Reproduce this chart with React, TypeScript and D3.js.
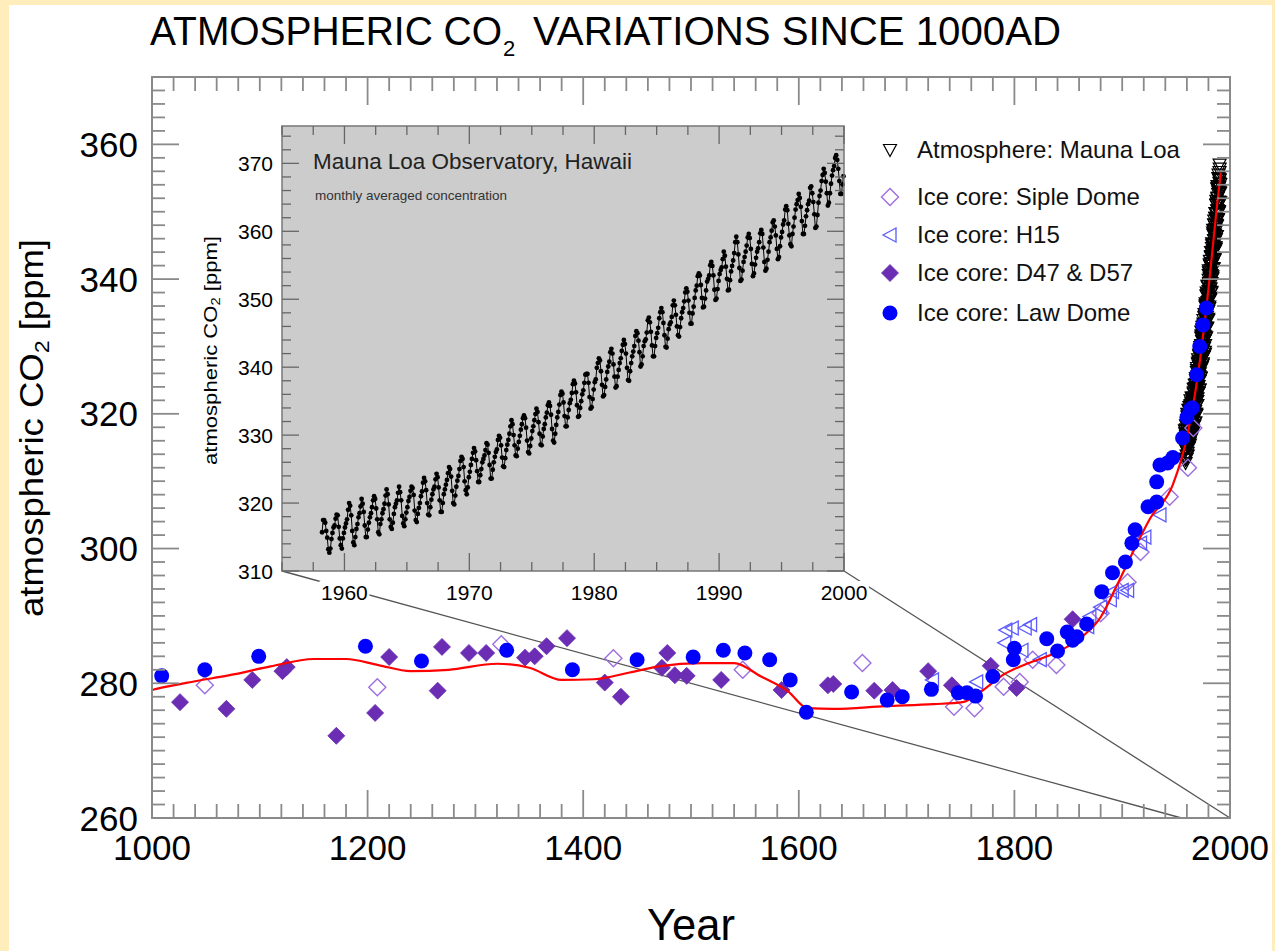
import React from "react";
import * as d3 from "d3";

const FONT = "'Liberation Sans', Arial, Helvetica, sans-serif";

// ---------- tick labels ----------
const xMajorTicks = [1000, 1200, 1400, 1600, 1800, 2000];
const yMajorTicks = [260, 280, 300, 320, 340, 360];
const insetXTicks = [1960, 1970, 1980, 1990, 2000];
const insetYTicks = [310, 320, 330, 340, 350, 360, 370];

// ---------- ice core: Law Dome ----------
const lawDomeYear = [1009, 1049, 1099, 1198, 1250, 1329, 1390, 1450, 1502, 1530, 1550, 1573, 1592, 1607, 1649, 1682, 1696, 1723, 1748, 1756, 1764, 1780, 1799, 1800, 1830, 1840, 1849, 1854, 1858, 1867, 1881, 1891, 1903, 1909, 1912, 1924, 1932, 1932, 1935, 1942, 1947, 1956, 1960, 1963, 1965, 1969, 1972, 1975, 1978];
const lawDomeCO2 = [281.1, 282.0, 284.0, 285.5, 283.3, 284.9, 282.0, 283.5, 283.9, 284.9, 284.5, 283.5, 280.5, 275.7, 278.7, 277.5, 278.0, 279.1, 278.6, 278.6, 278.1, 281.0, 283.5, 285.2, 286.6, 284.8, 287.6, 286.4, 286.9, 288.8, 293.6, 296.4, 298.0, 300.8, 302.8, 306.2, 306.9, 309.9, 312.4, 312.7, 313.5, 316.4, 319.5, 320.6, 320.9, 325.8, 330.0, 333.2, 335.7];

// ---------- ice core: D47 & D57 ----------
const d47Year = [1026, 1069, 1093, 1121, 1125, 1171, 1207, 1220, 1265, 1269, 1294, 1310, 1346, 1355, 1366, 1385, 1420, 1435, 1473, 1478, 1485, 1496, 1528, 1584, 1627, 1632, 1670, 1687, 1720, 1742, 1778, 1802, 1854];
const d47CO2 = [277.2, 276.2, 280.5, 281.8, 282.4, 272.2, 275.6, 283.9, 278.9, 285.4, 284.5, 284.5, 283.8, 284.0, 285.5, 286.7, 280.1, 278.0, 282.3, 284.5, 281.2, 281.1, 280.5, 279.0, 279.7, 279.9, 278.9, 279.0, 281.8, 279.7, 282.6, 279.3, 289.5];

// ---------- ice core: Siple Dome ----------
const sipleYear = [1049, 1209, 1324, 1428, 1548, 1659, 1744, 1763, 1790, 1805, 1817, 1839, 1880, 1905, 1917, 1944, 1961, 1966];
const sipleCO2 = [279.7, 279.4, 285.8, 283.7, 282.0, 283.0, 276.5, 276.3, 279.5, 280.2, 283.5, 282.7, 290.4, 295.0, 299.5, 307.7, 312.0, 317.9];

// ---------- ice core: H15 ----------
const h15Year = [1724, 1765, 1791, 1792, 1798, 1807, 1810, 1815, 1824, 1868, 1870, 1880, 1889, 1891, 1900, 1905, 1917, 1921, 1935];
const h15CO2 = [280.5, 280.2, 286.0, 287.9, 288.2, 284.9, 288.2, 288.7, 283.5, 288.4, 289.9, 291.3, 292.4, 293.6, 293.8, 293.8, 300.8, 301.7, 305.0];

// ---------- smoothed fit (red line) ----------
const fitYear = [1000, 1005, 1040, 1072, 1110, 1150, 1180, 1210, 1240, 1275, 1320, 1350, 1380, 1410, 1443, 1470, 1510, 1540, 1565, 1590, 1608, 1632, 1680, 1725, 1752, 1771, 1790, 1810, 1835, 1862, 1880, 1895, 1910, 1926, 1947, 1960, 1970, 1980, 1988, 1991.5];
const fitCO2 = [279.0, 279.2, 280.3, 281.2, 282.5, 283.6, 283.6, 282.7, 281.8, 282.0, 282.9, 282.3, 280.5, 280.6, 281.6, 282.5, 283.0, 283.0, 281.0, 278.8, 276.3, 276.2, 276.6, 276.9, 277.2, 279.0, 281.3, 282.8, 284.3, 286.8, 289.8, 294.5, 299.5, 304.5, 309.5, 316.5, 325.5, 338.5, 351.0, 355.8];

// ---------- atmosphere: Mauna Loa monthly averages, March 1958 onward ----------
const mloMonthlyStart = 1958 + 2 / 12;
const mloMainLastYear = 1990; // main panel shows the record through 1990
const mloMonthly = [
  315.7, 317.5, 317.5, 317.1, 315.9, 314.9, 313.2, 312.7, 313.3, 314.7,
  315.6, 316.4, 316.7, 317.7, 318.3, 318.2, 316.5, 314.8, 313.8, 313.3, 314.8, 315.6,
  316.4, 317.0, 317.6, 319.0, 320.0, 319.6, 318.2, 315.9, 314.2, 313.8, 315.0, 316.2,
  316.9, 317.9, 318.5, 319.5, 320.6, 319.9, 318.7, 316.7, 315.0, 315.0, 316.1, 317.1,
  317.9, 318.5, 319.4, 320.4, 321.0, 320.6, 319.2, 317.6, 315.7, 315.4, 316.9, 317.6,
  318.5, 319.1, 319.9, 321.1, 322.0, 321.3, 319.8, 317.6, 316.5, 316.2, 317.1, 318.4,
  319.4, 319.9, 320.4, 321.5, 322.4, 321.6, 320.4, 318.1, 317.0, 316.6, 317.6, 318.6,
  319.4, 320.3, 320.9, 321.8, 322.4, 322.2, 321.2, 318.9, 317.5, 317.2, 318.4, 319.3,
  320.0, 321.0, 321.7, 323.0, 323.7, 323.2, 321.9, 320.0, 318.3, 318.2, 319.4, 320.5,
  321.3, 322.0, 322.4, 323.5, 324.3, 323.8, 322.3, 320.4, 318.7, 318.7, 320.0, 321.3,
  322.0, 322.7, 323.4, 324.4, 325.3, 325.0, 323.9, 321.8, 320.0, 319.8, 321.1, 322.4,
  323.3, 324.0, 325.0, 326.2, 326.8, 326.5, 325.3, 323.2, 321.9, 321.3, 322.3, 323.8,
  324.6, 325.6, 326.5, 327.4, 328.1, 327.6, 326.3, 324.7, 323.1, 323.1, 324.1, 325.0,
  326.0, 326.5, 327.0, 327.8, 328.8, 328.6, 327.4, 325.6, 323.6, 323.6, 324.9, 326.0,
  326.8, 327.5, 327.9, 329.3, 329.9, 329.6, 328.5, 326.7, 325.4, 325.3, 326.6, 327.8,
  328.6, 329.3, 330.2, 331.3, 332.2, 331.6, 330.0, 328.5, 327.0, 326.9, 328.0, 329.0,
  329.9, 330.8, 331.6, 332.5, 332.9, 332.5, 331.1, 329.2, 327.5, 327.3, 328.4, 329.5,
  330.6, 331.3, 332.2, 333.1, 333.9, 333.4, 331.9, 330.2, 328.6, 328.5, 329.8, 330.9,
  331.6, 332.6, 333.3, 334.4, 334.8, 334.3, 333.0, 330.9, 329.2, 328.9, 330.2, 331.5,
  332.6, 333.4, 334.5, 335.9, 336.4, 336.1, 334.8, 332.8, 331.3, 331.3, 332.6, 333.7,
  334.7, 335.2, 336.2, 337.5, 338.0, 337.6, 336.3, 334.4, 332.7, 332.8, 334.0, 335.0,
  336.0, 336.6, 337.7, 338.9, 339.0, 339.0, 337.7, 335.6, 333.9, 334.1, 335.3, 336.7,
  337.8, 338.2, 339.9, 340.6, 341.3, 341.0, 339.4, 337.4, 335.7, 335.9, 337.1, 338.2,
  339.3, 340.1, 340.8, 342.2, 342.7, 342.0, 340.4, 338.6, 337.0, 337.2, 338.6, 339.6,
  340.6, 341.3, 342.4, 343.3, 344.0, 343.4, 342.0, 339.9, 338.1, 338.0, 339.4, 340.6,
  341.6, 342.3, 343.1, 344.6, 345.3, 345.0, 343.9, 342.2, 340.1, 340.4, 341.6, 343.1,
  343.8, 344.1, 345.1, 346.9, 347.3, 346.6, 345.2, 343.2, 341.6, 341.6, 343.1, 344.3,
  345.0, 345.8, 347.2, 348.1, 348.7, 348.1, 346.5, 344.7, 343.0, 342.9, 344.2, 345.6,
  346.3, 346.6, 347.4, 349.1, 349.8, 349.1, 347.7, 346.0, 344.7, 344.5, 345.9, 347.2,
  348.1, 348.7, 349.7, 351.0, 351.6, 351.1, 349.8, 348.0, 346.4, 346.4, 347.9, 348.9,
  350.2, 351.3, 352.0, 353.4, 353.8, 353.5, 352.1, 350.2, 348.8, 348.9, 350.1, 351.3,
  352.6, 353.0, 353.5, 355.0, 355.5, 354.9, 353.5, 351.4, 349.9, 350.1, 351.5, 352.7,
  353.7, 354.3, 354.7, 355.9, 357.0, 356.4, 354.8, 353.0, 351.3, 351.4, 352.8, 354.1,
  354.9, 355.7, 356.8, 358.4, 359.2, 358.4, 356.6, 354.6, 352.7, 352.9, 354.2, 355.5,
  356.2, 357.0, 357.9, 359.1, 359.6, 359.0, 357.4, 355.2, 353.4, 353.8, 355.1, 356.1,
  357.0, 357.5, 358.4, 359.7, 360.2, 359.6, 357.6, 355.5, 354.2, 354.5, 355.8, 357.0,
  358.4, 359.1, 360.1, 361.3, 361.6, 360.7, 359.4, 357.4, 355.9, 356.2, 357.8, 359.1,
  359.9, 361.0, 361.6, 363.2, 363.7, 363.1, 361.1, 359.4, 358.1, 357.8, 359.6, 360.7,
  362.0, 363.2, 364.0, 364.6, 365.5, 364.9, 363.6, 361.5, 359.6, 359.6, 360.8, 362.2,
  363.1, 364.0, 364.5, 366.4, 366.6, 365.6, 364.3, 362.5, 360.5, 360.7, 362.4, 364.2,
  365.2, 366.0, 367.4, 368.3, 369.2, 368.6, 367.3, 365.6, 363.8, 364.2, 365.6, 367.0,
  368.2, 369.0, 369.6, 370.8, 371.2, 370.5, 369.2, 367.4, 365.5, 365.5, 366.9, 368.1,
];

const legendLabels = [
  "Atmosphere: Mauna Loa",
  "Ice core: Siple Dome",
  "Ice core: H15",
  "Ice core: D47 & D57",
  "Ice core: Law Dome",
];

// ---------- scales ----------
const xMain = d3.scaleLinear().domain([1000, 2000]).range([152, 1230]);
const yMain = d3.scaleLinear().domain([260, 370]).range([818, 77]);
const xIn = d3.scaleLinear().domain([1955, 2000]).range([282, 844]);
const yIn = d3.scaleLinear().domain([310, 375.5]).range([571, 126]);

const COL_D47 = "#6b2db3";
const COL_SIPLE = "#9c6ee0";
const COL_H15 = "#5b5bff";
const COL_LAW = "#0000ff";
const AXIS = "#8a8a8a";

const triDown = "M-6.5,-5.5L6.5,-5.5L0,6.5Z";
const diamond = (r: number) => `M0,${-r}L${r},0L0,${r}L${-r},0Z`;
const triLeft = "M-7,0L6,-7L6,7Z";

function Sym({ kind, x, y }: { kind: string; x: number; y: number }) {
  const t = `translate(${x},${y})`;
  if (kind === "mlo") return <path d={triDown} transform={t} fill="none" stroke="#000" strokeWidth={1.2} />;
  if (kind === "siple") return <path d={diamond(8.5)} transform={t} fill="none" stroke={COL_SIPLE} strokeWidth={1.4} />;
  if (kind === "h15") return <path d={triLeft} transform={t} fill="none" stroke={COL_H15} strokeWidth={1.3} />;
  if (kind === "d47") return <path d={diamond(8.5)} transform={t} fill={COL_D47} stroke={COL_D47} strokeWidth={0.8} />;
  return <circle cx={x} cy={y} r={7.5} fill={COL_LAW} />;
}

export default function App() {
  const fitLine = d3
    .line<number>()
    .x((_, i) => xMain(fitYear[i]))
    .y((d) => yMain(d))
    .curve(d3.curveMonotoneX)(fitCO2) as string;

  const monthT = mloMonthly.map((_, i) => mloMonthlyStart + (i + 0.5) / 12);
  const insetLine = d3
    .line<number>()
    .x((_, i) => xIn(monthT[i]))
    .y((d) => yIn(d))(mloMonthly) as string;
  const mainMloIdx = d3.range(mloMonthly.length).filter((i) => monthT[i] < mloMainLastYear + 1);

  const xMinor = d3.range(1000, 2000.1, 20);
  const yMinor = d3.range(260, 370.1, 2);
  const ixMinor = d3.range(1955, 2000.1, 2.5);
  const iyMinor = d3.range(310, 375.1, 2);

  const [x0, x1] = xMain.range();
  const [yb, yt] = yMain.range();
  const [ix0, ix1] = xIn.range();
  const [iyb, iyt] = yIn.range();

  const legendRows = [150, 197, 235, 273, 313];
  const legendKinds = ["mlo", "siple", "h15", "d47", "law"];

  return (
    <svg width={1275} height={951} style={{ position: "absolute", left: 0, top: 0 }} fontFamily={FONT}>
      <rect x={0} y={0} width={1275} height={951} fill="#ffeebb" />
      <rect x={9} y={5} width={1263} height={946} fill="#ffffff" />

      {/* title */}
      <text x={150} y={45} fontSize={41} textLength={352} lengthAdjust="spacingAndGlyphs" fill="#000">ATMOSPHERIC CO</text>
      <text x={503} y={56} fontSize={22} fill="#000">2</text>
      <text x={533} y={45} fontSize={41} textLength={528} lengthAdjust="spacingAndGlyphs" fill="#000">VARIATIONS SINCE 1000AD</text>

      {/* connector lines from inset to main axis */}
      <line x1={ix0} y1={iyb} x2={xMain(1955)} y2={yMain(260)} stroke="#555" strokeWidth={1.3} />
      <line x1={ix1} y1={iyb} x2={xMain(2000)} y2={yMain(260)} stroke="#555" strokeWidth={1.3} />

      {/* main data */}
      <g>
        {mainMloIdx.map((i) => <Sym key={"m" + i} kind="mlo" x={xMain(monthT[i])} y={yMain(mloMonthly[i])} />)}
        {sipleCO2.map((v, i) => <Sym key={"s" + i} kind="siple" x={xMain(sipleYear[i])} y={yMain(v)} />)}
        {h15CO2.map((v, i) => <Sym key={"h" + i} kind="h15" x={xMain(h15Year[i])} y={yMain(v)} />)}
        {d47CO2.map((v, i) => <Sym key={"d" + i} kind="d47" x={xMain(d47Year[i])} y={yMain(v)} />)}
        <path d={fitLine} fill="none" stroke="#ff0000" strokeWidth={2.2} />
        {lawDomeCO2.map((v, i) => <Sym key={"l" + i} kind="law" x={xMain(lawDomeYear[i])} y={yMain(v)} />)}
      </g>

      {/* main frame and ticks */}
      <rect x={x0} y={yt} width={x1 - x0} height={yb - yt} fill="none" stroke={AXIS} strokeWidth={2} />
      {xMinor.map((t) => {
        const len = t % 200 === 0 ? 28 : 14;
        const x = xMain(t);
        return (
          <g key={"xt" + t} stroke={AXIS} strokeWidth={1.8}>
            <line x1={x} x2={x} y1={yb} y2={yb - len} />
            <line x1={x} x2={x} y1={yt} y2={yt + len} />
          </g>
        );
      })}
      {yMinor.map((t) => {
        const len = t % 20 === 0 ? 27 : 13;
        const y = yMain(t);
        return (
          <g key={"yt" + t} stroke={AXIS} strokeWidth={1.8}>
            <line x1={x0} x2={x0 + len} y1={y} y2={y} />
            <line x1={x1} x2={x1 - len} y1={y} y2={y} />
          </g>
        );
      })}
      {xMajorTicks.map((t) => (
        <text key={"xl" + t} x={xMain(t)} y={860} fontSize={35} textAnchor="middle" fill="#000">{t}</text>
      ))}
      {yMajorTicks.map((t) => (
        <text key={"yl" + t} x={138} y={yMain(t) + 12.5} fontSize={35} textAnchor="end" fill="#000">{t}</text>
      ))}
      <text x={691} y={940} fontSize={44} textAnchor="middle" textLength={88} lengthAdjust="spacingAndGlyphs" fill="#000">Year</text>
      <g transform="translate(43,617) rotate(-90)">
        <text x={0} y={0} fontSize={33} textLength={378} lengthAdjust="spacingAndGlyphs" fill="#000">
          atmospheric CO<tspan fontSize={21} dy={6}>2</tspan><tspan dy={-6}> [ppm]</tspan>
        </text>
      </g>

      {/* inset */}
      <rect x={ix0} y={iyt} width={ix1 - ix0} height={iyb - iyt} fill="#cccccc" />
      <path d={insetLine} fill="none" stroke="#000" strokeWidth={1} />
      {mloMonthly.map((v, i) => (
        <circle key={"im" + i} cx={xIn(monthT[i])} cy={yIn(v)} r={2.4} fill="#000" />
      ))}
      <rect x={ix0} y={iyt} width={ix1 - ix0} height={iyb - iyt} fill="none" stroke="#777" strokeWidth={1.5} />
      {ixMinor.map((t) => {
        const len = t % 10 === 0 ? 18 : 9;
        const x = xIn(t);
        return (
          <g key={"ixt" + t} stroke="#666" strokeWidth={1.3}>
            <line x1={x} x2={x} y1={iyb} y2={iyb - len} />
            <line x1={x} x2={x} y1={iyt} y2={iyt + len} />
          </g>
        );
      })}
      {iyMinor.map((t) => {
        const len = t % 10 === 0 ? 17 : 9;
        const y = yIn(t);
        return (
          <g key={"iyt" + t} stroke="#666" strokeWidth={1.3}>
            <line x1={ix0} x2={ix0 + len} y1={y} y2={y} />
            <line x1={ix1} x2={ix1 - len} y1={y} y2={y} />
          </g>
        );
      })}
      {insetXTicks.map((t) => (
        <g key={"ixl" + t}>
          <rect x={xIn(t) - 25} y={581} width={50} height={22} fill="#fff" />
          <text x={xIn(t)} y={600} fontSize={21} textAnchor="middle" fill="#000">{t}</text>
        </g>
      ))}
      {insetYTicks.map((t) => (
        <text key={"iyl" + t} x={273} y={yIn(t) + 7.5} fontSize={21} textAnchor="end" fill="#000">{t}</text>
      ))}
      <g transform="translate(217,465) rotate(-90)">
        <text x={0} y={0} fontSize={18} textLength={229} lengthAdjust="spacingAndGlyphs" fill="#000">
          atmospheric CO<tspan fontSize={12} dy={3}>2</tspan><tspan dy={-3}> [ppm]</tspan>
        </text>
      </g>
      <text x={313} y={169} fontSize={22} textLength={319} lengthAdjust="spacingAndGlyphs" fill="#222">Mauna Loa Observatory, Hawaii</text>
      <text x={315} y={200} fontSize={13} textLength={192} lengthAdjust="spacingAndGlyphs" fill="#333">monthly averaged concentration</text>

      {/* legend */}
      {legendLabels.map((lab, i) => (
        <g key={"lg" + i}>
          <Sym kind={legendKinds[i]} x={890} y={legendRows[i]} />
          <text x={917} y={legendRows[i] + 7.5} fontSize={24} fill="#111">{lab}</text>
        </g>
      ))}
    </svg>
  );
}
